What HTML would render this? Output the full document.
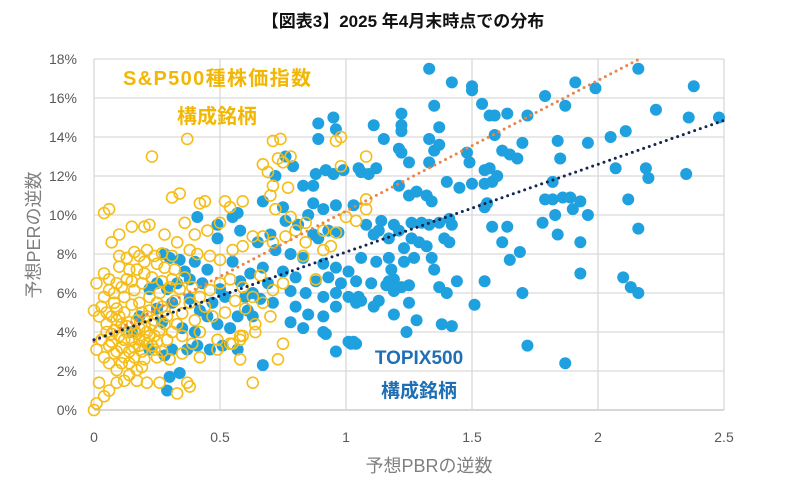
<!DOCTYPE html>
<html><head><meta charset="utf-8">
<style>
html,body{margin:0;padding:0;background:#fff;}
body{width:807px;height:480px;overflow:hidden;font-family:"Liberation Sans","Noto Sans CJK JP",sans-serif;}
svg text{font-family:"Liberation Sans","Noto Sans CJK JP",sans-serif;}
</style></head>
<body>
<svg id="chart" width="807" height="480" viewBox="0 0 807 480" xmlns="http://www.w3.org/2000/svg">
<text x="403" y="27" text-anchor="middle" font-size="17" font-weight="bold" fill="#111">【図表3】2025 年4月末時点での分布</text>
<g id="grid"></g>
<g id="ticks"></g>
<g id="blue"></g>
<g id="yellow"></g>
<g id="trends"></g>
<text x="429" y="472" text-anchor="middle" font-size="18" fill="#7f7f7f">予想PBRの逆数</text>
<text transform="translate(40,235) rotate(-90)" text-anchor="middle" font-size="18" fill="#7f7f7f">予想PERの逆数</text>
<text x="217" y="85" text-anchor="middle" font-size="20" font-weight="bold" fill="#f2b705" textLength="188">S&amp;P500種株価指数</text>
<text x="217" y="123" text-anchor="middle" font-size="20" font-weight="bold" fill="#f2b705">構成銘柄</text>
<text x="419" y="364" text-anchor="middle" font-size="19" font-weight="bold" fill="#1f6fb5">TOPIX500</text>
<text x="419" y="397" text-anchor="middle" font-size="19" font-weight="bold" fill="#1f6fb5">構成銘柄</text>
</svg>
<script>
const xTicks=[0,0.5,1,1.5,2,2.5];
const xTickLabels=["0","0.5","1","1.5","2","2.5"];
const yTicks=[0,2,4,6,8,10,12,14,16,18];
const yTickLabels=["0%","2%","4%","6%","8%","10%","12%","14%","16%","18%"];
const trendSP=[3.5,6.7];
const trendTOPIX=[3.6,4.5];
const topixPts=[
[1.33,17.5],[1.42,16.8],[1.50,16.6],[1.50,16.4],[1.54,15.7],[1.35,15.6],[1.22,15.2],[1.57,15.1],[1.59,15.1],[1.64,15.2],[1.72,15.1],[1.79,16.1],[1.91,16.8],[1.99,16.5],[1.87,15.6],[2.16,17.5],[2.38,16.6],[2.23,15.4],[2.36,15.0],[2.48,15.0],[2.11,14.3],[2.05,14.0],[1.96,13.7],[1.84,13.8],[1.85,12.9],[2.07,12.4],[2.19,12.4],[2.20,11.9],[2.35,12.1],[2.12,10.8],[2.16,9.3],[1.82,11.7],[1.79,10.8],[1.82,10.8],[1.86,10.9],[1.89,10.9],[1.93,10.7],[1.90,10.3],[1.96,10.0],[1.78,9.6],[1.83,10.0],[1.84,9.0],[1.93,8.6],[1.93,7.0],[2.10,6.8],[2.13,6.3],[2.16,6.0],[1.70,6.0],[1.72,3.3],[1.87,2.4],[1.51,5.4],[1.55,6.6],[1.44,6.6],[1.37,6.3],[1.40,6.0],[1.38,4.4],[1.42,4.3],[1.25,5.5],[1.28,4.6],[1.24,4.0],[1.02,3.4],[1.04,3.4],[0.96,3.0],[0.92,3.9],[1.64,9.4],[1.58,9.4],[1.62,8.6],[1.65,7.7],[1.69,8.1],[1.55,10.4],[1.56,10.6],[1.55,12.3],[1.57,12.4],[1.60,12.0],[1.55,11.6],[1.58,11.7],[1.45,11.4],[1.50,11.6],[1.62,13.3],[1.65,13.1],[1.70,13.7],[1.68,12.9],[1.59,14.1],[1.48,13.2],[1.49,12.7],[1.37,14.5],[1.33,13.9],[1.35,13.3],[1.37,13.6],[1.22,14.6],[1.21,13.4],[1.25,12.7],[1.33,12.7],[1.40,11.7],[1.21,11.5],[1.25,11.0],[1.28,11.2],[1.32,11.0],[1.34,10.7],[1.26,9.6],[1.30,9.6],[1.33,9.5],[1.37,9.6],[1.41,9.8],[1.42,9.5],[1.26,8.8],[1.29,8.6],[1.32,8.4],[1.39,8.8],[1.41,8.6],[1.34,7.8],[1.27,7.8],[1.23,8.3],[1.35,7.2],[1.18,7.2],[1.19,6.7],[1.25,6.4],[1.16,6.4],[1.14,9.7],[1.19,9.5],[1.11,9.0],[1.12,12.4],[1.06,12.2],[1.09,12.1],[1.11,14.6],[0.89,14.7],[0.95,15.0],[1.05,5.8],[1.11,5.3],[1.19,4.9],
[0.96,14.4],[0.89,13.9],[1.15,13.9],[1.22,14.3],[1.22,13.2],[0.76,13.0],[0.79,12.5],[0.72,12.0],[0.67,10.7],[0.88,12.1],[0.92,12.3],[0.95,12.1],[0.83,11.5],[0.87,11.5],[0.99,12.3],[1.05,12.4],[0.87,10.6],[0.91,10.3],[0.96,10.5],[1.03,10.5],[0.76,9.7],[0.81,9.5],[0.87,9.0],[0.89,8.8],[0.93,9.2],[0.97,9.1],[1.08,9.5],[1.13,9.2],[1.17,8.8],[1.21,9.2],[0.72,8.2],[0.78,8.0],[0.83,7.8],[0.91,7.5],[0.96,7.3],[1.01,7.1],[1.06,7.8],[1.12,7.6],[1.17,7.8],[1.23,7.6],[0.67,7.3],[0.75,7.1],[0.80,6.8],[0.88,6.6],[0.93,6.8],[0.98,6.5],[1.04,6.6],[1.10,6.5],[1.17,6.6],[1.22,6.3],[0.78,6.1],[0.84,6.0],[0.91,5.8],[0.96,6.0],[1.01,5.8],[1.06,5.6],[1.13,5.6],[1.19,6.1],[0.80,5.3],[0.85,4.9],[0.91,4.8],[0.96,5.3],[1.04,5.5],[0.78,4.5],[0.83,4.2],[0.91,4.0],[1.01,3.5],[1.03,3.5],[0.67,2.3],[0.49,9.5],[0.49,8.8],[0.55,9.9],[0.57,10.1],[0.41,9.9],[0.28,8.0],[0.30,7.8],[0.34,7.7],[0.25,6.5],[0.29,6.2],[0.33,6.5],[0.38,6.7],[0.43,6.5],[0.42,5.1],[0.45,4.8],[0.49,4.4],[0.54,4.2],[0.57,4.8],[0.61,5.1],[0.63,4.8],[0.22,3.1],[0.28,2.8],[0.31,3.1],[0.34,1.9],[0.30,1.7],[0.29,1.0],[0.37,3.1],[0.41,3.3],[0.46,3.1],[0.51,3.3],[0.57,3.1],[0.38,5.7],[0.31,5.5],[0.25,5.2],[0.18,4.8],[0.15,4.0],[0.63,6.0],[0.69,6.5],[0.71,5.5],[0.60,5.8],[0.65,8.6],[0.70,9.0],[0.62,7.0],[0.55,7.6],[0.50,6.2],[0.45,7.2],[0.58,9.2],[0.85,10.0],[0.75,10.4],
[0.35,4.2],[0.40,4.0],[0.47,5.5],[0.52,5.8],[0.36,7.1],[0.40,7.6],[0.58,6.6],[0.66,5.7],[0.22,6.2],[0.27,4.5]
];
const spxPts=[
[0.37,13.9],[0.23,13.0],[0.71,13.8],[0.74,13.9],[0.67,12.6],[0.69,12.2],[0.73,12.9],[0.75,12.7],[0.78,13.0],[0.96,13.8],[0.98,14.0],[1.08,13.0],[0.98,12.5],[0.77,11.4],[0.71,11.5],[0.70,11.0],[0.31,10.9],[0.34,11.1],[0.04,10.1],[0.06,10.3],[0.15,9.4],[0.20,9.4],[0.22,9.5],[0.42,10.6],[0.44,10.7],[0.52,10.7],[0.54,10.4],[0.59,10.7],[0.07,8.6],[0.16,8.1],[0.21,8.2],[0.18,7.9],[0.10,7.35],[0.14,7.2],[0.20,7.0],[0.25,7.5],[0.32,7.2],[0.38,8.2],[0.41,8.0],[0.46,7.9],[0.50,7.7],[0.55,8.2],[0.59,8.4],[0.63,8.9],[0.67,8.9],[0.71,8.6],[0.76,8.9],[0.80,9.2],[0.72,10.3],[0.78,9.9],[0.84,9.6],[0.91,9.2],[0.96,9.1],[1.00,9.9],[0.84,8.6],[0.91,8.2],[0.94,8.4],[0.88,6.7],[0.83,7.9],[1.08,10.8],[1.08,10.3],[1.04,9.7],
[0.01,6.5],[0.04,5.8],[0.06,6.15],[0.09,6.5],[0.12,5.8],[0.16,6.15],[0.18,5.5],[0.22,5.8],[0.25,5.5],[0.28,5.1],[0.32,5.6],[0.35,4.96],[0.38,5.5],[0.42,5.8],[0.46,6.15],[0.50,6.5],[0.54,6.7],[0.59,6.3],[0.63,5.8],[0.67,5.5],[0.71,6.15],[0.75,6.5],
[0.00,5.1],[0.02,4.8],[0.05,4.4],[0.08,4.1],[0.10,3.8],[0.13,4.3],[0.16,4.0],[0.18,3.6],[0.21,3.4],[0.24,3.8],[0.26,4.1],[0.29,3.6],[0.31,4.0],[0.35,3.8],[0.39,3.4],[0.42,4.0],[0.49,3.6],[0.54,3.4],[0.59,3.8],[0.64,4.4],[0.70,4.8],
[0.01,3.1],[0.04,2.7],[0.06,2.4],[0.09,2.05],[0.12,2.7],[0.14,2.4],[0.17,2.05],[0.20,2.6],[0.25,2.7],[0.30,2.6],[0.35,2.9],[0.42,2.7],[0.49,3.1],[0.55,3.4],[0.58,3.6],[0.64,4.0],
[0.00,0.0],[0.01,0.34],[0.04,0.7],[0.06,1.0],[0.09,1.4],[0.02,1.4],[0.12,1.5],[0.17,1.5],[0.21,1.4],[0.26,1.4],[0.33,0.85],[0.38,1.2],[0.37,1.4],[0.63,1.4],[0.75,3.4],[0.73,2.6],[0.58,2.6],[0.58,3.8],
[0.33,8.6],[0.27,8.03],[0.31,7.9],[0.24,7.9],[0.17,7.2],[0.13,6.7],
[0.05,4.0],[0.07,3.5],[0.09,4.6],[0.11,3.2],[0.12,5.0],[0.14,3.0],[0.15,5.4],[0.17,4.6],[0.19,3.0],[0.20,4.3],[0.22,5.1],[0.23,3.3],[0.24,4.6],[0.26,6.0],[0.27,3.0],[0.28,4.4],[0.30,6.3],[0.33,4.4],[0.36,6.8],[0.40,4.6],[0.44,5.3],[0.47,4.8],[0.52,5.0],[0.56,5.6],[0.60,5.2],[0.66,6.9],[0.45,9.2],[0.50,9.6],[0.40,9.0],[0.36,9.6],[0.28,9.0],[0.10,9.0],[0.13,7.8],[0.08,5.5],[0.03,3.6],[0.06,3.3],[0.11,2.4],[0.19,2.2],[0.14,1.8],[0.08,2.9],[0.16,3.2],[0.22,3.8],[0.10,4.8],[0.14,4.5],[0.18,4.2],[0.21,4.8],
[0.03,5.3],[0.05,5.0],[0.07,4.8],[0.09,5.2],[0.11,4.4],[0.13,4.0],[0.15,3.6],[0.17,3.9],[0.19,5.0],[0.21,4.0],[0.23,4.4],[0.25,3.5],[0.27,5.3],[0.29,4.8],[0.07,3.9],[0.09,3.0],[0.12,3.6],[0.16,2.7],[0.18,3.3],[0.20,3.6],[0.24,3.1],[0.06,6.7],[0.08,6.0],[0.11,6.3],[0.15,6.6],[0.19,6.5],[0.23,6.8],[0.27,6.6],[0.31,6.7],[0.04,7.0],[0.10,7.9],[0.20,7.6],[0.28,7.3],[0.34,6.2],[0.39,6.3]
];
const X0=94,X1=724,Y0=410,Y1=59;
const sx=v=>X0+v/2.5*(X1-X0);
const sy=v=>Y0-v/18*(Y0-Y1);
const NS="http://www.w3.org/2000/svg";
function mk(tag,parent,attrs){const e=document.createElementNS(NS,tag);for(const k in attrs)e.setAttribute(k,attrs[k]);parent.appendChild(e);return e;}
const grid=document.getElementById('grid'),ticks=document.getElementById('ticks');
yTicks.forEach((t,i)=>{
  const l=mk('line',grid,{x1:X0,x2:X1,y1:sy(t),y2:sy(t),stroke:t===0?'#bfbfbf':'#d9d9d9','stroke-width':1.3});
  
  
  const tx=mk('text',ticks,{x:77,y:sy(t)+5,'text-anchor':'end','font-size':14,fill:'#595959'});
  tx.textContent=yTickLabels[i];
  
  
});
xTicks.forEach((t,i)=>{
  const l=mk('line',grid,{x1:sx(t),x2:sx(t),y1:Y1,y2:Y0,stroke:'#d9d9d9','stroke-width':1.3});
  
  
  const tx=mk('text',ticks,{x:sx(t),y:442,'text-anchor':'middle','font-size':14,fill:'#595959'});
  tx.textContent=xTickLabels[i];
  
  
});
const blue=document.getElementById('blue');
topixPts.forEach(p=>{
  const c=mk('circle',blue,{cx:sx(p[0]),cy:sy(p[1]),r:6,fill:'#1fa0df'});
  
  
});
const yel=document.getElementById('yellow');
spxPts.forEach(p=>{
  const c=mk('circle',yel,{cx:sx(p[0]),cy:sy(p[1]),r:5.5,fill:'none',stroke:'#f5bd18','stroke-width':1.6});
  
  
});
const tr=document.getElementById('trends');
const xEndSP=Math.min(2.5,(18-trendSP[0])/trendSP[1]);
const l1=mk('line',tr,{x1:sx(0),y1:sy(trendSP[0]),x2:sx(xEndSP),y2:sy(trendSP[0]+trendSP[1]*xEndSP),stroke:'#e8854a','stroke-width':3,'stroke-dasharray':'0 6','stroke-linecap':'round'});


const xEndT=Math.min(2.5,(18-trendTOPIX[0])/trendTOPIX[1]);
const l2=mk('line',tr,{x1:sx(0),y1:sy(trendTOPIX[0]),x2:sx(xEndT),y2:sy(trendTOPIX[0]+trendTOPIX[1]*xEndT),stroke:'#14254f','stroke-width':3,'stroke-dasharray':'0 6','stroke-linecap':'round'});


</script>
</body></html>
